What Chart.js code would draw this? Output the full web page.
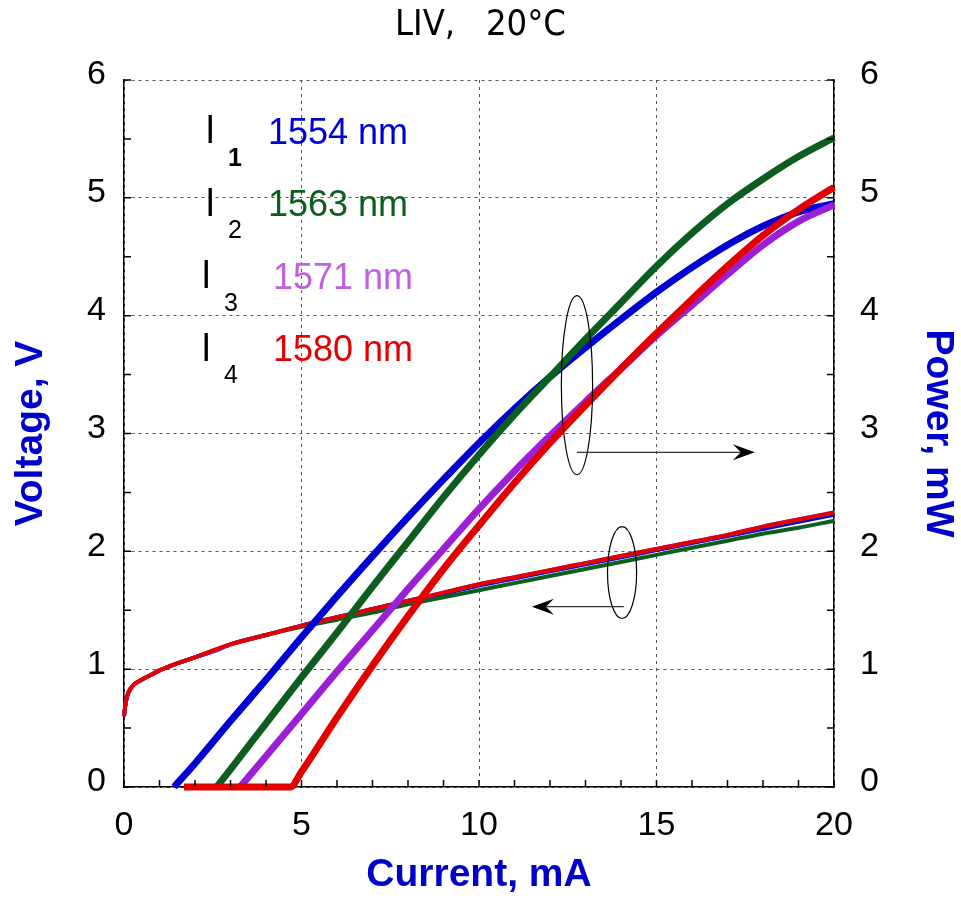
<!DOCTYPE html>
<html>
<head>
<meta charset="utf-8">
<title>LIV, 20°C</title>
<script src="https://cdn.jsdelivr.net/npm/chart.js@4.4.1/dist/chart.umd.min.js"></script>
<style>
    html, body { margin: 0; padding: 0; background: #fff; }
    #wrap { width: 961px; height: 903px; }
</style>
</head>
<body>
<div id="wrap"><canvas id="liv" width="961" height="903"></canvas></div>
<script>
// Wavelength labels and colours
const wavelengths = ['1554 nm', '1563 nm', '1571 nm', '1580 nm'];
const subscripts = ['1', '2', '3', '4'];
const lineColors = ['#0000d2', '#0b5e1e', '#9a1fd6', '#e20000'];
const labelColors = ['#0000d2', '#0b5e1e', '#c060e0', '#e20000'];

// Voltage vs current (mA -> V)
const currentV = [0, 0.05, 0.12, 0.25, 0.5, 0.75, 1, 1.5, 2, 2.5, 3, 4, 5, 6, 7, 8, 9, 10, 11, 12, 13, 14, 15, 16, 17, 18, 19, 20];
const voltage1554 = [0.60, 0.72, 0.80, 0.86, 0.91, 0.95, 0.99, 1.05, 1.10, 1.15, 1.21, 1.29, 1.37, 1.44, 1.51, 1.58, 1.64, 1.71, 1.77, 1.83, 1.89, 1.95, 2.01, 2.07, 2.13, 2.19, 2.25, 2.31];
const voltage1563 = [0.60, 0.72, 0.80, 0.86, 0.91, 0.95, 0.99, 1.05, 1.10, 1.15, 1.21, 1.29, 1.36, 1.42, 1.48, 1.55, 1.61, 1.67, 1.73, 1.79, 1.85, 1.91, 1.97, 2.03, 2.09, 2.15, 2.20, 2.26];
const voltage1571 = [0.60, 0.72, 0.80, 0.86, 0.91, 0.95, 0.99, 1.05, 1.10, 1.15, 1.21, 1.29, 1.37, 1.44, 1.51, 1.58, 1.65, 1.72, 1.78, 1.84, 1.90, 1.96, 2.02, 2.08, 2.14, 2.21, 2.27, 2.33];
const voltage1580 = [0.60, 0.72, 0.80, 0.86, 0.91, 0.95, 0.99, 1.05, 1.10, 1.16, 1.21, 1.29, 1.37, 1.44, 1.51, 1.58, 1.65, 1.72, 1.78, 1.84, 1.90, 1.96, 2.02, 2.08, 2.14, 2.21, 2.27, 2.33];

// Optical power vs current (mA -> mW)
const currentP1554 = [1.41, 2, 3, 4, 5, 6, 7, 8, 9, 10, 11, 12, 13, 14, 15, 16, 17, 18, 19, 20];
const power1554 = [0, 0.20, 0.56, 0.91, 1.27, 1.62, 1.96, 2.29, 2.61, 2.92, 3.21, 3.48, 3.73, 3.97, 4.20, 4.41, 4.60, 4.76, 4.88, 4.95];
const currentP1563 = [2.61, 3, 4, 5, 6, 7, 8, 9, 10, 11, 12, 13, 14, 15, 16, 17, 18, 19, 20];
const power1563 = [0, 0.15, 0.54, 0.93, 1.31, 1.70, 2.08, 2.46, 2.82, 3.16, 3.48, 3.80, 4.11, 4.42, 4.70, 4.95, 5.16, 5.35, 5.51];
const currentP1571 = [3.27, 4, 5, 6, 7, 8, 9, 10, 11, 12, 13, 14, 15, 16, 17, 18, 19, 20];
const power1571 = [0, 0.26, 0.62, 0.98, 1.33, 1.68, 2.02, 2.36, 2.68, 2.98, 3.27, 3.55, 3.83, 4.09, 4.35, 4.60, 4.80, 4.94];
const currentP1580 = [1.69, 4.68, 5, 6, 7, 8, 9, 10, 11, 12, 13, 14, 15, 16, 17, 18, 19, 20];
const power1580 = [0, 0, 0.13, 0.59, 1.03, 1.45, 1.85, 2.22, 2.58, 2.92, 3.24, 3.55, 3.85, 4.14, 4.42, 4.68, 4.90, 5.09];

// Annotation marks (data units): ellipse groups and direction arrows
const ellipseMarks = [
    { x: 12.76, y: 3.41, rx: 0.44, ry: 0.76 },
    { x: 14.03, y: 1.82, rx: 0.41, ry: 0.39 }
];
const arrowMarks = [
    { from: 12.76, to: 17.77, y: 2.84 },
    { from: 14.08, to: 11.49, y: 1.53 }
];

const FONT = "'Liberation Sans', Arial, Helvetica, sans-serif";
Chart.defaults.font.family = FONT;
Chart.defaults.color = '#000';

const toPoints = (xs, ys) => xs.map((x, i) => ({ x, y: ys[i] }));

const voltageSets = [voltage1554, voltage1563, voltage1571, voltage1580];
const powerSets = [
    [currentP1554, power1554],
    [currentP1563, power1563],
    [currentP1571, power1571],
    [currentP1580, power1580]
];

// Later series sit on top in the picture, so give them the lower order
const datasets = [];
voltageSets.forEach((v, i) => {
    datasets.push({
        label: `V ${wavelengths[i]}`,
        data: toPoints(currentV, v),
        yAxisID: 'y',
        borderColor: lineColors[i],
        borderWidth: 4,
        pointRadius: 0,
        cubicInterpolationMode: 'monotone',
        clip: false,
        order: 10 - i
    });
});
powerSets.forEach(([c, p], i) => {
    datasets.push({
        label: `P ${wavelengths[i]}`,
        data: toPoints(c, p),
        yAxisID: 'y1',
        borderColor: lineColors[i],
        borderWidth: 7,
        pointRadius: 0,
        cubicInterpolationMode: 'monotone',
        clip: false,
        order: 5 - i
    });
});

// Small inward ticks on the frame
const frameTicks = {
    id: 'frameTicks',
    afterDraw(chart) {
        const { ctx, chartArea: a, scales } = chart;
        ctx.save();
        ctx.strokeStyle = '#000';
        ctx.lineWidth = 1.5;
        ctx.beginPath();
        for (let v = 0; v <= 20; v += 1) {
            const px = scales.x.getPixelForValue(v);
            ctx.moveTo(px, a.bottom);
            ctx.lineTo(px, a.bottom - 7);
        }
        for (let v = 0; v <= 6; v += 0.5) {
            const py = scales.y.getPixelForValue(v);
            ctx.moveTo(a.left, py);
            ctx.lineTo(a.left + 7, py);
            ctx.moveTo(a.right, py);
            ctx.lineTo(a.right - 7, py);
        }
        ctx.stroke();
        ctx.restore();
    }
};

// Ellipses, arrows and the wavelength key
const annotations = {
    id: 'annotations',
    afterDatasetsDraw(chart) {
        const { ctx, chartArea: a, scales } = chart;
        const sx = scales.x, sy = scales.y;
        ctx.save();
        ctx.strokeStyle = '#000';
        ctx.lineWidth = 1.2;
        ellipseMarks.forEach(e => {
            const cx = sx.getPixelForValue(e.x);
            const cy = sy.getPixelForValue(e.y);
            const rx = Math.abs(sx.getPixelForValue(e.x + e.rx) - cx);
            const ry = Math.abs(sy.getPixelForValue(e.y + e.ry) - cy);
            ctx.beginPath();
            ctx.ellipse(cx, cy, rx, ry, 0, 0, Math.PI * 2);
            ctx.stroke();
        });
        arrowMarks.forEach(m => {
            const x0 = sx.getPixelForValue(m.from);
            const x1 = sx.getPixelForValue(m.to);
            const y = sy.getPixelForValue(m.y);
            const dir = Math.sign(x1 - x0);
            ctx.strokeStyle = '#333';
            ctx.lineWidth = 1.3;
            ctx.beginPath();
            ctx.moveTo(x0, y);
            ctx.lineTo(x1 - dir * 12, y);
            ctx.stroke();
            ctx.fillStyle = '#000';
            ctx.beginPath();
            ctx.moveTo(x1, y);
            ctx.lineTo(x1 - dir * 22, y - 8);
            ctx.lineTo(x1 - dir * 14, y);
            ctx.lineTo(x1 - dir * 22, y + 8);
            ctx.closePath();
            ctx.fill();
        });

        // wavelength key
        wavelengths.forEach((w, i) => {
            const rowY = a.top + 53 + i * 72.5;
            const shift = i < 2 ? 0 : -4;
            ctx.fillStyle = '#000';
            ctx.textBaseline = 'middle';
            ctx.textAlign = 'left';
            ctx.font = `38px ${FONT}`;
            ctx.fillText('l', a.left + 82 + shift, rowY);
            ctx.font = `${i === 0 ? 'bold ' : ''}25px ${FONT}`;
            ctx.fillText(subscripts[i], a.left + 104 + shift, rowY + 26);
            ctx.fillStyle = labelColors[i];
            ctx.font = `36px ${FONT}`;
            ctx.fillText(w, a.left + 144 + (i < 2 ? 0 : 5), rowY + 1);
        });
        ctx.restore();
    }
};

const tickFont = { size: 34, family: FONT };
const titleFont = { size: 39, weight: 'bold', family: FONT };
const gridOpts = { color: '#555', lineWidth: 1, drawTicks: false };
const frameBorder = { display: true, color: '#000', width: 1.5, dash: [3, 4] };

new Chart(document.getElementById('liv'), {
    type: 'line',
    data: { datasets },
    plugins: [frameTicks, annotations],
    options: {
        responsive: false,
        animation: false,
        devicePixelRatio: 1,
        layout: { padding: 0 },
        plugins: {
            legend: { display: false },
            tooltip: { enabled: false },
            title: {
                display: true,
                text: 'LIV,   20°C',
                color: '#000',
                font: { size: 36, weight: 'normal', family: "'Liberation Sans Narrow', 'DejaVu Sans Condensed', " + FONT },
                padding: { top: 4, bottom: 32.8 }
            }
        },
        scales: {
            x: {
                type: 'linear',
                position: 'bottom',
                min: 0,
                max: 20,
                ticks: { stepSize: 5, font: tickFont, color: '#000', padding: 18 },
                grid: gridOpts,
                border: frameBorder,
                title: {
                    display: true,
                    text: 'Current, mA',
                    color: '#0000cc',
                    font: titleFont,
                    padding: { top: 4, bottom: 4 }
                },
                afterFit: s => { s.height = 116; }
            },
            y: {
                type: 'linear',
                position: 'left',
                min: 0,
                max: 6,
                ticks: { stepSize: 1, font: tickFont, color: '#000', padding: 18, labelOffset: -5 },
                grid: gridOpts,
                border: frameBorder,
                title: {
                    display: true,
                    text: 'Voltage, V',
                    color: '#0000cc',
                    font: titleFont,
                    padding: { top: 8, bottom: 4 }
                },
                afterFit: s => { s.width = 124; }
            },
            y1: {
                type: 'linear',
                position: 'right',
                min: 0,
                max: 6,
                ticks: { stepSize: 1, font: tickFont, color: '#000', padding: 26, labelOffset: -5 },
                grid: { display: false, drawTicks: false },
                border: { display: true, color: '#000', width: 1.5 },
                title: {
                    display: true,
                    text: 'Power, mW',
                    color: '#0000cc',
                    font: titleFont,
                    padding: { top: 0, bottom: 4 }
                },
                afterFit: s => { s.width = 127; }
            }
        }
    }
});
</script>
</body>
</html>
